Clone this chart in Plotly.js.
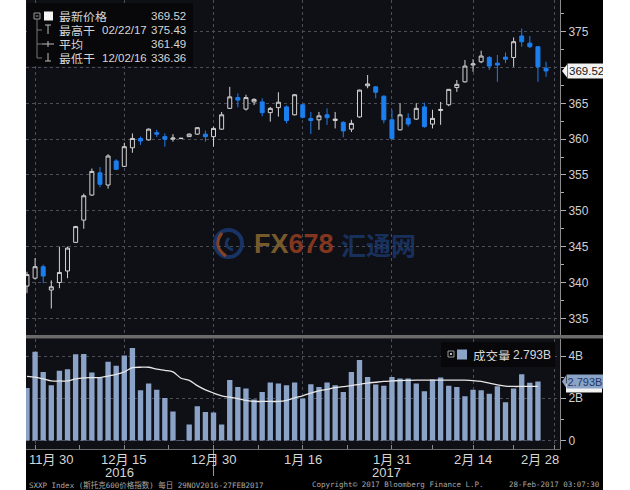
<!DOCTYPE html>
<html><head><meta charset="utf-8">
<script src="https://cdn.plot.ly/plotly-3.0.1.min.js"></script>
<style>
html,body{margin:0;padding:0;background:#ffffff;}
#chart{position:absolute;left:26px;top:0;width:577px;height:490px;}
</style>
</head><body><div id="chart"></div>
<script>
// ---------------- data ----------------
const dates = ['2016-11-29','2016-11-30','2016-12-01','2016-12-02','2016-12-05','2016-12-06','2016-12-07','2016-12-08','2016-12-09','2016-12-12','2016-12-13','2016-12-14','2016-12-15','2016-12-16','2016-12-19','2016-12-20','2016-12-21','2016-12-22','2016-12-23','2016-12-26','2016-12-27','2016-12-28','2016-12-29','2016-12-30','2017-01-02','2017-01-03','2017-01-04','2017-01-05','2017-01-06','2017-01-09','2017-01-10','2017-01-11','2017-01-12','2017-01-13','2017-01-16','2017-01-17','2017-01-18','2017-01-19','2017-01-20','2017-01-23','2017-01-24','2017-01-25','2017-01-26','2017-01-27','2017-01-30','2017-01-31','2017-02-01','2017-02-02','2017-02-03','2017-02-06','2017-02-07','2017-02-08','2017-02-09','2017-02-10','2017-02-13','2017-02-14','2017-02-15','2017-02-16','2017-02-17','2017-02-20','2017-02-21','2017-02-22','2017-02-23','2017-02-24','2017-02-27'];

const openP = [339.5,340.6,342.2,338.95,340.0,341.6,345.6,348.7,352.2,355.3,
 353.6,356.95,356.2,358.8,360.1,359.9,360.9,360.35,360.0,360.08,
 360.35,360.7,360.7,360.35,361.4,364.3,365.8,364.2,365.2,365.2,
 363.7,364.4,364.5,363.4,364.8,362.9,362.7,363.4,362.6,362.35,
 361.4,363.1,367.45,367.3,366.0,362.7,361.3,362.9,362.8,364.5,
 362.1,364.0,364.8,367.2,368.0,370.35,370.8,371.4,370.6,371.45,
 371.4,374.4,373.4,372.9,369.9];
const highP = [341.5,343.4,342.5,340.3,345.0,345.0,347.9,352.4,355.9,356.1,
 357.9,357.2,359.5,360.8,360.35,361.5,361.3,360.8,360.7,360.12,
 360.8,361.7,361.2,361.75,363.8,367.3,366.4,366.2,365.7,365.7,
 364.5,366.55,364.7,366.3,364.9,363.8,363.8,364.3,363.8,362.5,
 362.7,366.9,368.95,367.4,366.1,364.1,365.0,363.6,365.0,365.1,
 364.1,365.2,367.0,368.25,371.05,371.15,372.35,371.6,371.75,372.1,
 374.2,375.43,374.4,373.0,370.8];
const lowP = [338.5,340.4,339.9,336.36,339.2,340.6,345.5,347.5,352.1,353.3,
 353.1,355.7,356.1,358.1,359.2,359.8,360.3,358.95,359.65,360.05,
 360.3,360.6,359.65,358.95,361.3,364.2,364.45,364.0,364.75,363.2,
 362.45,363.15,362.2,363.3,362.9,360.7,361.3,362.0,361.5,360.25,
 361.0,363.0,367.1,365.7,362.2,360.0,361.2,361.75,362.7,361.6,
 361.5,362.0,364.6,366.6,367.9,369.4,370.6,369.65,368.0,370.6,
 370.1,372.9,372.7,368.0,368.7];
const closeP = [341.1,342.2,340.9,339.4,341.4,344.8,347.8,352.1,355.5,353.7,
 357.65,355.8,358.95,360.1,359.75,361.4,360.7,360.0,360.16,360.12,
 360.7,361.6,360.35,361.5,363.4,365.9,365.45,365.8,365.55,363.7,
 364.3,365.15,362.6,366.2,363.05,362.6,363.25,363.0,362.8,361.15,
 362.2,366.85,367.7,366.55,362.7,360.1,363.4,362.1,364.3,361.75,
 362.9,364.15,366.95,367.65,370.2,370.5,371.6,370.2,370.35,371.15,
 373.6,373.6,372.9,370.1,369.52];

// volume in billions (last session not yet reported)
const volume = [2.49,4.20,3.24,2.62,3.30,3.38,4.08,4.10,3.22,2.97,
 3.73,3.54,4.03,4.38,2.38,2.70,2.41,2.01,1.38,0.03,
 0.76,1.62,1.35,1.33,0.76,2.86,2.54,2.46,1.94,2.30,
 2.75,2.70,2.62,2.75,1.99,2.67,2.54,2.75,2.62,2.30,
 3.24,3.81,3.01,2.65,2.59,3.01,2.94,2.94,2.70,2.33,
 2.89,2.99,2.59,2.54,2.10,2.41,2.38,2.22,2.57,1.81,
 2.46,3.14,2.73,2.793,null];
const volumeMA = [3.04,3.00,2.92,2.82,2.82,2.82,2.92,2.97,2.98,2.98,
 3.05,3.13,3.25,3.45,3.47,3.47,3.38,3.32,3.25,2.95,
 2.85,2.60,2.40,2.25,2.12,2.05,1.98,1.90,1.85,1.85,
 1.85,1.85,1.90,2.02,2.12,2.25,2.35,2.42,2.50,2.55,
 2.60,2.66,2.72,2.76,2.80,2.82,2.84,2.85,2.86,2.86,
 2.86,2.86,2.86,2.86,2.86,2.84,2.80,2.72,2.64,2.58,
 2.56,2.56,2.56,2.56,null];

const tickDates = ['2016-11-30','2016-12-15','2016-12-30','2017-01-16','2017-01-31','2017-02-14','2017-02-28'];
const tickLabels = ['11月 30','12月 15','12月 30','1月 16','1月 31','2月 14','2月 28'];
const priceTicks = [335,340,345,350,355,360,365,370,375];
const priceTickText = ['335','340','345','350','355','360','365','','375'];
const priceMinor = [332.5,337.5,342.5,347.5,352.5,357.5,362.5,367.5,372.5,377.5];
const volTicks = [0,2,4];
const volTickText = ['0','2B','4B'];
const volMinor = [1,3];

const lastPrice = 369.52, highVal = 375.43, highDate = '02/22/17';
const avgVal = 361.49, lowVal = 336.36, lowDate = '12/02/16';
const lastVolume = 2.793;

// ---------------- helpers ----------------
const W = 534, H = 449;             // plot area size in px
const P = xa => (xa - 26) / W;      // absolute page x -> paper
const Q = ya => (H - ya) / H;       // absolute page y -> paper
const idx = dates.map((d, i) => i);
const tickIdx = tickDates.map(d => { const k = dates.indexOf(d); return k < 0 ? dates.length : k; });
const minorIdx = tickIdx.slice(1).map((v, i) => (v + tickIdx[i]) / 2);

const FONT = '"Liberation Sans", Arial, "Noto Sans CJK SC", sans-serif';
const CJK = '"Noto Sans CJK SC", "Liberation Sans", sans-serif';
const MONO = '"DejaVu Sans Mono", "Noto Sans CJK SC", monospace';
const GRID = '#4d4d57';
const BLUE = '#1c7ff0';
const VOLC = '#8ba3c7';

// ---------------- traces ----------------
const candles = {
  type: 'candlestick', x: idx, open: openP, high: highP, low: lowP, close: closeP,
  xaxis: 'x', yaxis: 'y',
  increasing: {line: {color: '#d4d4d4', width: 1}, fillcolor: '#0f0f16'},
  decreasing: {line: {color: BLUE, width: 1}, fillcolor: BLUE},
  whiskerwidth: 0, hoverinfo: 'skip'
};
const volBars = {
  type: 'bar', x: idx, y: volume, xaxis: 'x', yaxis: 'y2',
  marker: {color: VOLC, line: {width: 0}}, hoverinfo: 'skip'
};
const maLine = {
  type: 'scatter', mode: 'lines', x: idx, y: volumeMA, xaxis: 'x', yaxis: 'y2',
  line: {color: '#e6e6e6', width: 1.3, shape: 'spline', smoothing: 0.8}, hoverinfo: 'skip'
};

// ---------------- decorations ----------------
const shapes = [];
const ann = [];
function rect(x0, y0, x1, y1, fill, line, layer) {
  shapes.push({type: 'rect', xref: 'paper', yref: 'paper', x0: P(x0), x1: P(x1), y0: Q(y1), y1: Q(y0),
    fillcolor: fill, line: line || {width: 0}, layer: layer || 'above'});
}
function seg(x0, y0, x1, y1, color, w) {
  shapes.push({type: 'line', xref: 'paper', yref: 'paper', x0: P(x0), x1: P(x1), y0: Q(y0), y1: Q(y1),
    line: {color: color, width: w || 1}, layer: 'above'});
}
function txt(text, xa, ya, o) {
  o = o || {};
  const a = {text: text, xref: 'paper', yref: 'paper', x: P(xa), y: Q(ya), xanchor: o.anchor || 'left',
    yanchor: 'middle', showarrow: false, opacity: o.opacity || 1, borderpad: 0,
    font: {family: o.family || FONT, size: o.size || 13, color: o.color || '#d6d6d6'}};
  if (o.height) a.height = o.height;
  ann.push(a);
}

// panel separator
rect(26, 335, 603, 338.5, '#6b6b6b');

// price legend box
rect(27, 3, 193, 66, '#08080b');
shapes.push({type: 'rect', xref: 'paper', yref: 'paper', x0: P(34), x1: P(40), y0: Q(19), y1: Q(13),
  fillcolor: 'rgba(0,0,0,0)', line: {color: '#999', width: 1}, layer: 'above'});
seg(35.5, 16, 38.5, 16, '#999');
seg(37, 19, 37, 58, '#777');
seg(37, 30, 42, 30, '#777'); seg(37, 44, 42, 44, '#777'); seg(37, 58, 42, 58, '#777');
rect(44, 11.5, 53, 20.5, '#f4f4f4');
seg(45, 25, 51, 25, '#bbb'); seg(48, 25, 48, 34, '#bbb');
seg(42, 44, 54, 44, '#bbb'); seg(48, 41, 48, 47, '#bbb');
seg(48, 53, 48, 61, '#bbb'); seg(45, 61, 51, 61, '#bbb');
const LG = {family: CJK, size: 12, height: 12};
const LN = {size: 11.5, height: 12};
txt('最新价格', 58, 16, LG);
txt(lastPrice.toFixed(2), 187, 16, Object.assign({anchor: 'right'}, LN));
txt('最高于', 58, 30, LG);
txt(highDate, 101, 30, LN);
txt(highVal.toFixed(2), 187, 30, Object.assign({anchor: 'right'}, LN));
txt('平均', 58, 44, LG);
txt(avgVal.toFixed(2), 187, 44, Object.assign({anchor: 'right'}, LN));
txt('最低于', 58, 58, LG);
txt(lowDate, 101, 58, LN);
txt(lowVal.toFixed(2), 187, 58, Object.assign({anchor: 'right'}, LN));

// volume legend box
rect(441, 342, 555, 367, '#08080b');
shapes.push({type: 'rect', xref: 'paper', yref: 'paper', x0: P(448), x1: P(454), y0: Q(357), y1: Q(351),
  fillcolor: 'rgba(0,0,0,0)', line: {color: '#999', width: 1}, layer: 'above'});
rect(450, 353, 452, 355, '#bbb');
rect(457, 349.5, 467, 359.5, VOLC);
txt('成交量', 472, 354.5, {family: CJK, size: 12.5, height: 12});
txt(lastVolume.toFixed(3) + 'B', 512, 354.5, {size: 12, height: 12});

// last price marker on price axis
const pxPerPrice = (H * (1 - Q(335))) / (379.42 - 332.67);
const dP = 6.5 / pxPerPrice;
shapes.push({type: 'path', xref: 'paper', yref: 'y', layer: 'above',
  path: `M ${P(562)},${lastPrice} L ${P(567)},${lastPrice + dP} L ${P(567)},${lastPrice - dP} Z`,
  fillcolor: '#f2f2f2', line: {width: 0}});
ann.push({text: lastPrice.toFixed(2), xref: 'paper', yref: 'y', x: P(566.5), y: lastPrice, xanchor: 'left', yanchor: 'middle',
  showarrow: false, bgcolor: '#f2f2f2', borderpad: 1,
  font: {family: FONT, size: 11.5, color: '#151515'}});

// last volume marker on volume axis (with the average marker peeking below)
const pxPerVol = 21;
const dV = 6 / pxPerVol;
shapes.push({type: 'rect', xref: 'paper', yref: 'y2', layer: 'above',
  x0: P(566), x1: P(602), y0: lastVolume - 11 / pxPerVol, y1: lastVolume - 2 / pxPerVol,
  fillcolor: '#f2f2f2', line: {width: 0}});
shapes.push({type: 'path', xref: 'paper', yref: 'y2', layer: 'above',
  path: `M ${P(562)},${lastVolume} L ${P(566)},${lastVolume + dV} L ${P(566)},${lastVolume - dV} Z`,
  fillcolor: VOLC, line: {width: 0}});
ann.push({text: lastVolume.toFixed(3) + 'B', xref: 'paper', yref: 'y2', x: P(565.5), y: lastVolume, xanchor: 'left', yanchor: 'middle',
  showarrow: false, bgcolor: VOLC, borderpad: 0.5,
  font: {family: FONT, size: 11, color: '#1b3766'}});

// x-axis labels
tickLabels.forEach((t, k) => {
  const a = {text: t, xref: 'x', yref: 'paper', x: tickIdx[k], y: Q(459), xanchor: 'center', yanchor: 'middle',
    showarrow: false, font: {family: FONT, size: 13, color: '#d6d6d6'}};
  if (k === 0) { a.xref = 'paper'; a.x = P(27); a.xanchor = 'left'; }
  if (k === tickLabels.length - 1) { a.xref = 'paper'; a.x = P(561); a.xanchor = 'right'; }
  ann.push(a);
});
txt('2016', 119.5, 472.5, {anchor: 'center'});
txt('2017', 386, 472.5, {anchor: 'center'});
shapes.push({type: 'line', xref: 'x', yref: 'paper', x0: dates.indexOf('2016-12-30'), x1: dates.indexOf('2016-12-30'),
  y0: Q(449), y1: Q(476), line: {color: '#9a9a9a', width: 1}, layer: 'above'});

// footer
txt('SXXP Index (斯托克600价格指数) 每日 29NOV2016-27FEB2017', 28, 485, {family: MONO, size: 7.5, color: '#a8a8a8'});
txt('Copyright© 2017 Bloomberg Finance L.P.', 311, 485, {family: MONO, size: 7.5, color: '#a8a8a8'});
txt('28-Feb-2017 03:07:30', 601, 485, {family: MONO, size: 7.5, color: '#a8a8a8', anchor: 'right'});

// watermark
shapes.push({type: 'circle', xref: 'paper', yref: 'paper', x0: P(215), x1: P(242), y0: Q(257), y1: Q(230),
  line: {color: '#1b3a72', width: 4}, fillcolor: 'rgba(0,0,0,0)', layer: 'above', opacity: 0.85});
shapes.push({type: 'path', xref: 'paper', yref: 'paper', layer: 'above', opacity: 0.85,
  path: `M ${P(222)},${Q(233)} Q ${P(212)},${Q(246)} ${P(226)},${Q(256)}`,
  line: {color: '#9a4a22', width: 3}});
shapes.push({type: 'path', xref: 'paper', yref: 'paper', layer: 'above', opacity: 0.85,
  path: `M ${P(229)},${Q(238)} Q ${P(222)},${Q(246)} ${P(233)},${Q(250)}`,
  line: {color: '#1b3a72', width: 3}});
ann.push({text: '<b><span style="color:#8a682e">FX</span><span style="color:#983d20">678</span></b>',
  xref: 'paper', yref: 'paper', x: P(252), y: Q(244), xanchor: 'left', yanchor: 'middle', showarrow: false,
  opacity: 0.85, font: {family: '"Liberation Sans", sans-serif', size: 27}});
ann.push({text: '<b>汇通网</b>', xref: 'paper', yref: 'paper', x: P(339), y: Q(244), xanchor: 'left', yanchor: 'middle',
  showarrow: false, opacity: 0.8, font: {family: CJK, size: 25, color: '#1b3a6e'}});

// ---------------- layout ----------------
const axisCommon = {showgrid: true, gridcolor: GRID, griddash: 'dot', gridwidth: 1, zeroline: false, fixedrange: true};
const layout = {
  width: 577, height: 490,
  margin: {l: 0, r: 43, t: 0, b: 41, pad: 0},
  paper_bgcolor: '#000000', plot_bgcolor: '#0f0f16',
  showlegend: false, bargap: 0.34,
  font: {family: FONT, color: '#d0d0d0', size: 12},
  xaxis: Object.assign({}, axisCommon, {
    range: [-0.12, 65.72], anchor: 'y2', rangeslider: {visible: false},
    tickmode: 'array', tickvals: tickIdx, showticklabels: false,
    ticks: 'inside', ticklen: 4, tickcolor: '#8a8a8a',
    showline: true, linecolor: '#6a6a6a', linewidth: 1,
    minor: {tickmode: 'array', tickvals: minorIdx, ticks: 'inside', ticklen: 4, tickcolor: '#8a8a8a', showgrid: false}
  }),
  yaxis: Object.assign({}, axisCommon, {
    domain: [Q(335), 1], side: 'right', range: [332.67, 379.42],
    tickmode: 'array', tickvals: priceTicks, ticktext: priceTickText,
    ticks: 'outside', ticklen: 5, tickcolor: '#b0b0b0',
    showline: true, linecolor: '#8a8a8a', linewidth: 1,
    tickfont: {family: FONT, size: 12, color: '#cfcfcf'},
    minor: {tickmode: 'array', tickvals: priceMinor, ticks: 'outside', ticklen: 3, tickcolor: '#b0b0b0', showgrid: false}
  }),
  yaxis2: Object.assign({}, axisCommon, {
    domain: [0, Q(338.5)], side: 'right', range: [-0.4, 4.83],
    tickmode: 'array', tickvals: volTicks, ticktext: volTickText,
    ticks: 'outside', ticklen: 5, tickcolor: '#b0b0b0',
    showline: true, linecolor: '#8a8a8a', linewidth: 1,
    tickfont: {family: FONT, size: 12, color: '#cfcfcf'},
    minor: {tickmode: 'array', tickvals: volMinor, ticks: 'outside', ticklen: 3, tickcolor: '#b0b0b0', showgrid: false}
  }),
  shapes: shapes,
  annotations: ann
};

Plotly.newPlot('chart', [volBars, maLine, candles], layout, {staticPlot: true, displayModeBar: false});
</script>
</body></html>
